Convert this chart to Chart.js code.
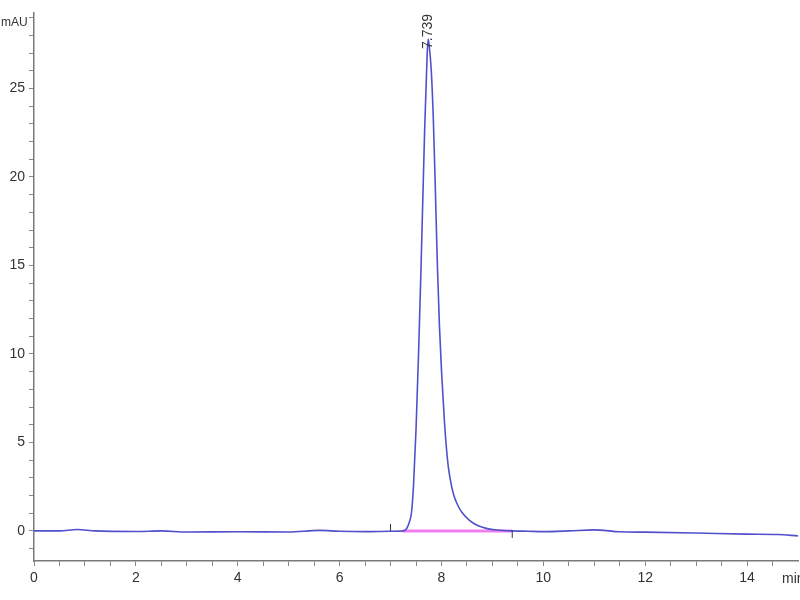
<!DOCTYPE html>
<html>
<head>
<meta charset="utf-8">
<script src="https://cdn.jsdelivr.net/npm/chart.js@4"></script>
<style>
  body { margin: 0; background: #fff; }
  #wrap { width: 800px; height: 600px; }
</style>
</head>
<body>
<div id="wrap"><canvas id="chromChart" width="800" height="600"></canvas></div>
<script>
// retention time (min) and signal (mAU)
let times = [0, 0.5, 0.85, 1.2, 2, 2.5, 3, 4, 5, 5.6, 6, 6.5, 7, 7.25,
  7.32, 7.37, 7.41, 7.45, 7.5, 7.55, 7.6, 7.67, 7.72, 7.739, 7.76, 7.8, 7.84, 7.88,
  7.92, 7.96, 8.0, 8.06, 8.1, 8.14, 8.2, 8.25, 8.32, 8.4, 8.55, 8.7, 8.9, 9.1, 9.4,
  9.7, 10, 10.5, 11, 11.5, 12, 13, 14, 14.6, 15];
let signal = [0, 0, 0.08, 0, -0.03, 0, -0.06, -0.05, -0.06, 0.03, -0.02, -0.04, -0.02, 0,
  0.15, 0.5, 1.0, 2.5, 5.7, 10.0, 15.0, 22.7, 27.0, 27.8, 27.4, 26.0, 23.3, 19.3,
  15.0, 11.6, 9.1, 6.1, 4.6, 3.5, 2.5, 1.95, 1.45, 1.05, 0.6, 0.32, 0.13, 0.05, 0,
  -0.02, -0.04, 0, 0.06, -0.05, -0.07, -0.12, -0.18, -0.2, -0.28];

// integration baseline of the peak
let baseTimes = [7.24, 9.39];
let baseValues = [0, 0];

let peakTime = 7.739;
let peakHeight = 27.8;
let peakLabel = "7.739";
let peakStart = 7.0;

let xTickValues = [0, 2, 4, 6, 8, 10, 12, 14];
let yTickValues = [0, 5, 10, 15, 20, 25];

let traceData = times.map((t, i) => ({ x: t, y: signal[i] }));
let baseData = baseTimes.map((t, i) => ({ x: t, y: baseValues[i] }));

let axisFont = { family: "'Liberation Sans', Arial", size: 14 };

let labelsPlugin = {
  id: "chromLabels",
  afterDraw(chart) {
    let ctx = chart.ctx;
    let xs = chart.scales.x;
    let ys = chart.scales.y;
    let area = chart.chartArea;
    ctx.save();
    ctx.fillStyle = "#333";

    // axis units
    ctx.font = "12px 'Liberation Sans', Arial";
    ctx.textAlign = "left";
    ctx.textBaseline = "middle";
    ctx.fillText("mAU", 1, area.top + 10);
    ctx.font = "14px 'Liberation Sans', Arial";
    ctx.fillText("min", area.right - 16, area.bottom + 18);

    // peak retention time label, rotated
    let px = xs.getPixelForValue(peakTime);
    let py = ys.getPixelForValue(peakHeight);
    ctx.translate(px, py + 10);
    ctx.rotate(-Math.PI / 2);
    ctx.font = "14px 'Liberation Sans', Arial";
    ctx.textAlign = "left";
    ctx.textBaseline = "middle";
    ctx.fillText(peakLabel, 0, 0);
    ctx.restore();

    // start / end marks of the integration
    ctx.save();
    ctx.strokeStyle = "#333";
    ctx.lineWidth = 1;
    let y0 = ys.getPixelForValue(0);
    let s = xs.getPixelForValue(peakStart);
    let e = xs.getPixelForValue(baseTimes[1]);
    ctx.beginPath();
    ctx.moveTo(s, y0);
    ctx.lineTo(s, y0 - 7);
    ctx.moveTo(e, y0);
    ctx.lineTo(e, y0 + 7);
    ctx.stroke();
    ctx.restore();
  }
};

let ctx1 = document.getElementById("chromChart").getContext("2d");

new Chart(ctx1, {
  type: "scatter",
  data: {
    datasets: [
      {
        label: "trace",
        data: traceData,
        showLine: true,
        borderColor: "#5050cc",
        borderWidth: 1.6,
        pointRadius: 0,
        cubicInterpolationMode: "monotone",
        order: 1
      },
      {
        label: "baseline",
        data: baseData,
        showLine: true,
        borderColor: "#f07ef0",
        borderWidth: 3,
        pointRadius: 0,
        order: 2
      }
    ]
  },
  options: {
    responsive: false,
    animation: false,
    layout: { padding: { top: 12, right: 2, left: 0, bottom: 0 } },
    plugins: {
      legend: { display: false },
      tooltip: { enabled: false },
      title: { display: false }
    },
    scales: {
      x: {
        type: "linear",
        min: 0,
        max: 15,
        afterFit: (scale) => { scale.height = 39; },
        afterBuildTicks: (scale) => {
          let list = [];
          for (let v = 0; v <= 14.5; v += 0.5) list.push({ value: v });
          scale.ticks = list;
        },
        grid: { drawOnChartArea: false, drawTicks: true, tickLength: 5, color: "#888" },
        border: { display: true, color: "#7a7a7a", width: 1.5 },
        ticks: {
          autoSkip: false,
          maxRotation: 0,
          padding: 4,
          color: "#333",
          font: axisFont,
          callback: (v) => xTickValues.includes(v) ? String(v) : ""
        }
      },
      y: {
        type: "linear",
        min: -1.7,
        max: 29.3,
        afterFit: (scale) => { scale.width = 34; },
        afterBuildTicks: (scale) => {
          let list = [];
          for (let v = -1; v <= 29; v++) list.push({ value: v });
          scale.ticks = list;
        },
        grid: { drawOnChartArea: false, drawTicks: true, tickLength: 5, color: "#888" },
        border: { display: true, color: "#7a7a7a", width: 1.5 },
        ticks: {
          autoSkip: false,
          padding: 4,
          color: "#333",
          font: axisFont,
          callback: (v) => yTickValues.includes(v) ? String(v) : ""
        }
      }
    }
  },
  plugins: [labelsPlugin]
});
</script>
</body>
</html>
